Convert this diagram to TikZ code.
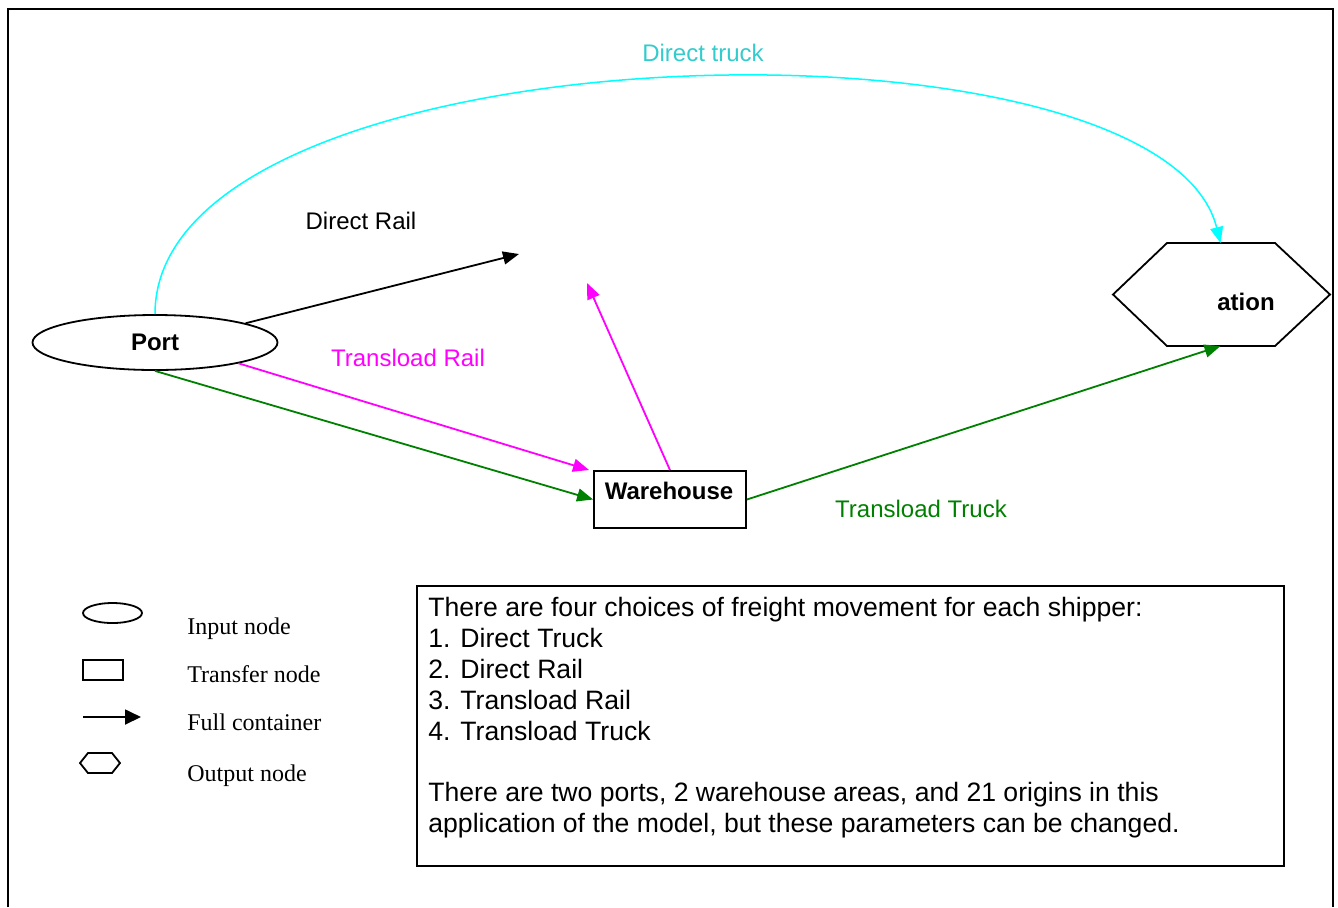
\documentclass[tikz,border=0pt]{standalone}
\usepackage{fontspec}
\setmainfont{Liberation Sans}
\newfontfamily\tmsfont{Liberation Serif}
\usetikzlibrary{arrows.meta,shapes.geometric}
\definecolor{cyanline}{RGB}{0,255,255}
\definecolor{cyantext}{RGB}{51,204,204}
\definecolor{magline}{RGB}{255,0,255}
\definecolor{grnline}{RGB}{0,128,0}
\tikzset{
  conn/.style={line width=0.9pt,-{Triangle[length=8pt,width=6.5pt]}},
  shapeline/.style={draw=black,line width=0.9pt},
  lbl/.style={font=\fontsize{12}{14}\selectfont,inner sep=0pt},
  boldlbl/.style={font=\fontsize{12}{14}\selectfont\bfseries,inner sep=0pt},
  boxline/.style={font=\fontsize{13.3}{15.5}\selectfont,inner sep=0pt,anchor=base west},
  legtext/.style={font=\fontsize{12}{14}\selectfont\tmsfont,inner sep=0pt,anchor=base west},
}
\begin{document}
\begin{tikzpicture}[x=0.5pt,y=-0.5pt]
\useasboundingbox (0,0) rectangle (1338,907);
% outer frame (bottom edge lies outside the picture)
\draw[line width=1.3pt] (8,907) -- (8,9) -- (1333,9) -- (1333,907);

% nodes
\node[shapeline,ellipse,minimum width=122.5pt,minimum height=27.5pt,inner sep=0pt] (port) at (155,342.5) {};
\node[boldlbl] (portlbl) at (155,342) {Port};
\node[shapeline,rectangle,minimum width=76pt,minimum height=28.5pt,inner sep=0pt] (wh) at (670,499.5) {};
\node[boldlbl] (whlbl) at (669,491) {Warehouse};

% destination hexagon
\coordinate (hxL) at (1113,294.5);
\coordinate (hxTL) at (1167,243);
\coordinate (hxTR) at (1275,243);
\coordinate (hxR) at (1330,294.5);
\coordinate (hxBR) at (1275,346);
\coordinate (hxBL) at (1167,346);
\coordinate (destTop) at (1220.5,243);
\coordinate (destBot) at (1220.5,346);
\draw[shapeline,line join=miter] (hxL) -- (hxTL) -- (hxTR) -- (hxR) -- (hxBR) -- (hxBL) -- cycle;
\node[boldlbl] (destlbl) at (1246,302) {ation};

% free ends
\coordinate (railEnd) at (519,254);
\coordinate (trRailEnd) at (587,283);
\coordinate (whTip) at (589,470);

% connectors
\draw[conn,draw=cyanline,line width=0.75pt] (port.north) .. controls (155,25) and (1160,0) .. (destTop);
\draw[conn,draw=black] (port.12.3) -- (railEnd);
\draw[conn,draw=magline] (port.-14.2) -- (whTip);
\draw[conn,draw=magline] (wh.north) -- (trRailEnd);
\draw[conn,draw=grnline] (port.south) -- (wh.west);
\draw[conn,draw=grnline] (wh.east) -- (destBot);

% connector labels
\node[lbl,text=cyantext] (ldt) at (703,53) {Direct truck};
\node[lbl] (ldr) at (361,221) {Direct Rail};
\node[lbl,text=magline] (ltr) at (408,358) {Transload Rail};
\node[lbl,text=grnline] (ltt) at (921,509) {Transload Truck};

% legend
\node[shapeline,ellipse,minimum width=29.5pt,minimum height=10pt,inner sep=0pt] (lgIn) at (112.5,613) {};
\node[shapeline,rectangle,minimum width=20pt,minimum height=10pt,inner sep=0pt] (lgTr) at (103,670) {};
\coordinate (lgA1) at (83,717);
\coordinate (lgA2) at (141,717);
\draw[line width=0.9pt,-{Triangle[length=8pt,width=7.5pt]}] (lgA1) -- (lgA2);
\coordinate (lgH1) at (80,763);
\coordinate (lgH2) at (88,753);
\coordinate (lgH3) at (112,753);
\coordinate (lgH4) at (120,763);
\coordinate (lgH5) at (112,773);
\coordinate (lgH6) at (88,773);
\draw[shapeline] (lgH1) -- (lgH2) -- (lgH3) -- (lgH4) -- (lgH5) -- (lgH6) -- cycle;
\node[legtext] (lgt1) at (187,634) {Input node};
\node[legtext] (lgt2) at (187,682) {Transfer node};
\node[legtext] (lgt3) at (187,730) {Full container};
\node[legtext] (lgt4) at (187,781) {Output node};

% text box
\draw[line width=1pt] (417,586) rectangle (1284,866);
\node[boxline] (tb1) at (428,616) {There are four choices of freight movement for each shipper:};
\node[boxline] (tb2) at (428,647) {1. Direct Truck};
\node[boxline] (tb3) at (428,678) {2. Direct Rail};
\node[boxline] (tb4) at (428,709) {3. Transload Rail};
\node[boxline] (tb5) at (428,740) {4. Transload Truck};
\node[boxline] (tb6) at (428,801) {There are two ports, 2 warehouse areas, and 21 origins in this};
\node[boxline] (tb7) at (428,832) {application of the model, but these parameters can be changed.};
\end{tikzpicture}
\end{document}
